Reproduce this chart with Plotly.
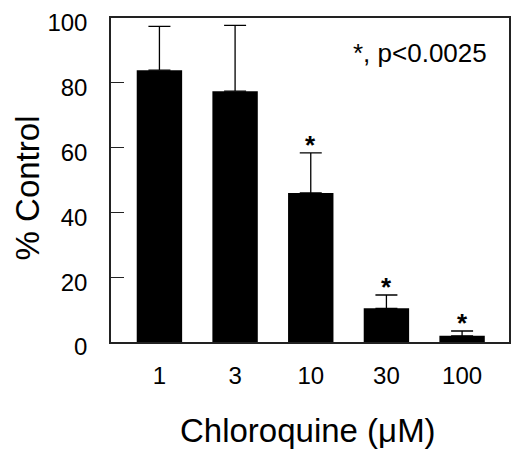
import plotly.graph_objects as go

doses = ["1", "3", "10", "30", "100"]
pct_control = [83.9, 77.4, 46.0, 10.4, 1.9]
sem = [13.5, 20.3, 12.4, 4.1, 1.5]
signif = ["", "", "*", "*", "*"]

FONT = "Liberation Sans"

fig = go.Figure()

fig.add_trace(go.Bar(
    x = doses,
    y = pct_control,
    marker = dict(color = "black", line = dict(width = 0)),
    error_y = dict(type = "data", array = sem, symmetric = False, arrayminus = [0] * len(sem),
                   color = "black", thickness = 1.3, width = 11),
    showlegend = False
))

# asterisks just above the error bar caps (category index, "10" would be read as a position)
for i, (v, e, s) in enumerate(zip(pct_control, sem, signif)):
    if s:
        fig.add_annotation(x = i, y = v + e, text = s, showarrow = False,
                           yanchor = "middle", yshift = 8,
                           font = dict(family = FONT, size = 26, color = "black", weight = "bold"))

fig.add_annotation(
    x = 0.95, y = 0.892, xref = "paper", yref = "paper",
    xanchor = "right", yanchor = "middle",
    text = "*, p<0.0025", showarrow = False,
    font = dict(family = FONT, size = 26, color = "black")
)

# axis titles as annotations so they can be placed exactly
fig.add_annotation(
    x = 0.495, y = 0, xref = "paper", yref = "paper",
    xanchor = "center", yanchor = "middle", yshift = -88,
    text = "Chloroquine (μM)", showarrow = False,
    font = dict(family = FONT, size = 33, color = "black")
)
fig.add_annotation(
    x = 0, y = 0.474, xref = "paper", yref = "paper",
    xanchor = "center", yanchor = "middle", xshift = -84,
    text = "% Control", textangle = -90, showarrow = False,
    font = dict(family = FONT, size = 33, color = "black")
)

fig.update_xaxes(
    type = "category",
    range = [-0.64, 4.62],
    automargin = False,
    showline = True, linecolor = "#222", linewidth = 1.5, mirror = True,
    ticks = "", showgrid = False,
    tickfont = dict(family = FONT, size = 24, color = "black"),
    ticklabelstandoff = 11
)

fig.update_yaxes(
    range = [0, 100],
    tickvals = [0, 20, 40, 60, 80, 100],
    automargin = False,
    ticklabeloverflow = "allow",
    ticklabelshift = 5,
    showline = True, linecolor = "#222", linewidth = 1.5, mirror = True,
    ticks = "inside", ticklen = 13, tickwidth = 1.2, tickcolor = "#222",
    showgrid = False, zeroline = False,
    tickfont = dict(family = FONT, size = 24, color = "black"),
    ticklabelstandoff = 17
)

fig.update_layout(
    width = 520,
    height = 456,
    margin = dict(l = 103, r = 19, t = 10, b = 122),
    bargap = 0.4,
    plot_bgcolor = "white",
    paper_bgcolor = "white",
    font = dict(family = FONT, color = "black")
)

fig.write_html("out.html")
